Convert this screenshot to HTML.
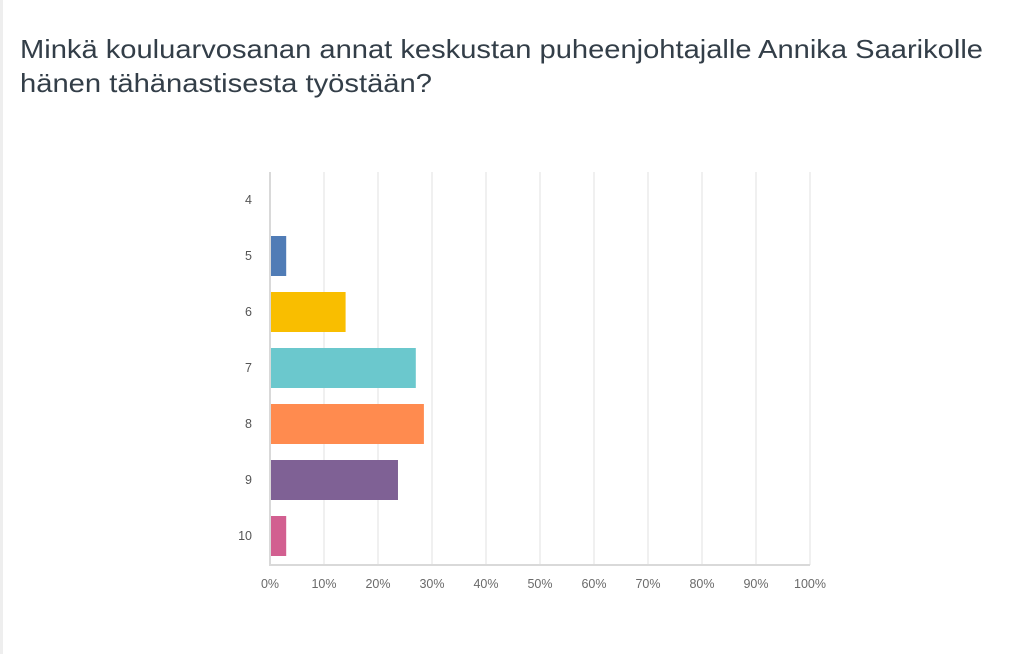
<!DOCTYPE html>
<html><head><meta charset="utf-8"><style>
html,body{margin:0;padding:0;background:#fff;}
body{width:1024px;height:654px;overflow:hidden;position:relative;font-family:"Liberation Sans",sans-serif;}
#edge{position:absolute;left:0;top:0;width:3px;height:654px;background:#eeeeee;}
</style></head><body>
<div id="edge"></div>
<svg width="1024" height="654" style="position:absolute;left:0;top:0">
<text x="20" y="58" font-size="26" fill="#333e48" textLength="963" lengthAdjust="spacingAndGlyphs">Minkä kouluarvosanan annat keskustan puheenjohtajalle Annika Saarikolle</text>
<text x="20" y="92" font-size="26" fill="#333e48" textLength="412" lengthAdjust="spacingAndGlyphs">hänen tähänastisesta työstään?</text>
<g id="grid"></g><g id="bars"></g><g id="labels"></g>
</svg>
<script>
const categories = ["4","5","6","7","8","9","10"];
const values = [0, 3, 14, 27, 28.5, 23.7, 3];
const colors = ["#507cb6","#507cb6","#f9be00","#6bc8cd","#ff8b4f","#7f6195","#d25f90"];
const ticks = [0,10,20,30,40,50,60,70,80,90,100];
const NS="http://www.w3.org/2000/svg";
const x0=270,x1=810,yTop=172,yBase=565,rowStart=200,rowStep=56,barH=40;
const xs=v=>x0+(x1-x0)*v/100;
const ys=i=>rowStart+i*rowStep;
const grid=document.getElementById('grid'),bars=document.getElementById('bars'),labels=document.getElementById('labels');
function mk(t,a){const e=document.createElementNS(NS,t);for(const k in a)e.setAttribute(k,a[k]);return e;}
ticks.forEach(t=>{
  const l=mk('line',{x1:xs(t),x2:xs(t),y1:yTop,y2:yBase,stroke:t===0?'#d9d9d9':'#ececec','stroke-width':t===0?2:1.5});
  
  
  grid.appendChild(l);
  const tx=mk('text',{x:xs(t),y:588,'font-size':12.5,fill:'#6a6a6a','text-anchor':'middle'});
  tx.textContent=t+'%';
  
  
  labels.appendChild(tx);
});
const base=mk('line',{x1:x0-1,x2:x1,y1:yBase,y2:yBase,stroke:'#d9d9d9','stroke-width':2});


grid.appendChild(base);
categories.forEach((c,i)=>{
  const y=ys(i);
  const tx=mk('text',{x:252,y:y+4,'font-size':12.5,fill:'#555','text-anchor':'end'});
  tx.textContent=c;
  
  
  labels.appendChild(tx);
  if(values[i]>0){
    const r=mk('rect',{x:x0+1,y:y-barH/2,width:xs(values[i])-x0-1,height:barH,fill:colors[i]});
    
    
    bars.appendChild(r);
  }
});
</script>
</body></html>
